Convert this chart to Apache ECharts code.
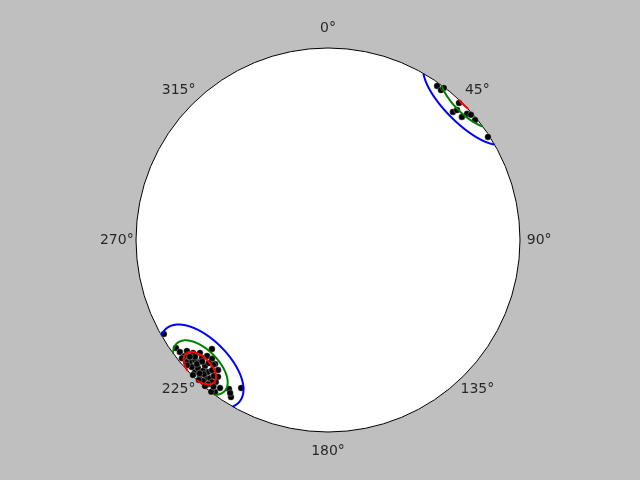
<!DOCTYPE html>
<html>
<head>
<meta charset="utf-8">
<script src="https://cdn.jsdelivr.net/npm/echarts@6/dist/echarts.min.js"></script>
<style>
html, body { margin: 0; padding: 0; background: #bfbfbf; }
#chart { width: 640px; height: 480px; }
</style>
</head>
<body>
<div id="chart"></div>
<script>
// poles, lower hemisphere (deg)
var trends = [
  35.3, 37.0, 37.3, 43.7, 44.3, 44.8, 47.4, 47.8, 48.8, 50.8, 57.2,
  240.2, 213.6, 210.4, 211.7, 226.8, 234.6, 232.9, 231.8, 230.1, 228.6,
  226.2, 224.3, 222.3, 220.2, 218.8, 218.3, 216.1, 216.6, 217.6, 222.6,
  212.6, 228.5, 227.9, 226.4, 224.3, 222.3, 221.5, 223.3, 225.2, 227.0,
  225.4, 223.7, 220.5, 219.2, 219.8, 221.6, 230.1, 231.1, 226.9, 224.1,
  221.7, 220.0, 226.6, 229.3, 225.0, 228.4, 220.1, 231.0, 222.7, 222.8,
  228.7, 229.8, 223.9, 218.0, 226.0
]
var plunges = [
  1.9, 2.5, 0.5, 1.4, 7.6, 5.2, 5.9, 2.5, 1.2, 1.3, 1.0,
  1.7, 7.6, 11.6, 4.3, 18.2, 3.2, 3.7, 7.2, 9.2, 12.1,
  13.8, 14.6, 13.7, 12.3, 9.4, 6.4, 5.1, 1.5, 0.3, 12.7,
  6.0, 4.5, 7.4, 8.7, 9.1, 7.8, 4.5, 3.0, 2.6, 3.4,
  5.5, 6.3, 6.0, 5.0, 2.6, 2.1, 5.5, 4.1, 11.0, 11.8,
  10.1, 8.3, 6.7, 2.8, 0.6, 2.0, 0.6, 2.4, 0.9, 5.4,
  8.6, 6.5, 4.0, 3.5, 9.8
]
var meanTrend = 225
var meanPlunge = 6
var coneAngles = [16.3, 10.6, 6.3]
var coneColors = ['#0000ff', '#008000', '#ff0000']
var tickAngles = [0, 45, 90, 135, 180, 225, 270, 315]

var d2r = Math.PI / 180

// equal-area projection, unit primitive
function project (trend, plunge) {
  var t = trend * d2r
  var p = plunge * d2r
  var r = Math.SQRT2 * Math.sin((Math.PI / 2 - p) / 2)
  return [r * Math.sin(t), r * Math.cos(t)]
}

// small circle around (trend, plunge), split where it leaves the lower hemisphere
function coneSegments (trend, plunge, angle) {
  var t = trend * d2r
  var p = plunge * d2r
  var a = angle * d2r
  var m = [Math.cos(p) * Math.cos(t), Math.cos(p) * Math.sin(t), Math.sin(p)]
  var h = [-Math.sin(t), Math.cos(t), 0]
  var v = [m[1] * h[2] - m[2] * h[1], m[2] * h[0] - m[0] * h[2], m[0] * h[1] - m[1] * h[0]]
  var segs = []
  var cur = null
  var prevFlip = null
  for (var i = 0; i <= 1440; i++) {
    var th = i / 1440 * 2 * Math.PI
    var c = [0, 1, 2].map(function (k) {
      return Math.cos(a) * m[k] + Math.sin(a) * (Math.cos(th) * h[k] + Math.sin(th) * v[k])
    })
    var flip = c[2] < 0
    if (flip) c = c.map(function (x) { return -x })
    var tr = Math.atan2(c[1], c[0]) / d2r
    var pl = Math.asin(Math.min(1, c[2])) / d2r
    if (flip !== prevFlip) {
      cur = []
      segs.push({ flip: flip, pts: cur })
      prevFlip = flip
    }
    cur.push(project(tr, pl))
  }
  if (segs.length > 1 && segs[0].flip === segs[segs.length - 1].flip) {
    var last = segs.pop()
    segs[0].pts = last.pts.concat(segs[0].pts)
  }
  return segs.map(function (s) { return s.pts })
}

var chart = echarts.init(document.getElementById('chart'))

var series = [
  {
    type: 'custom',
    silent: true,
    z: 1,
    data: [[0, 0]],
    renderItem: function (params, api) {
      var c = api.coord([0, 0])
      var r = api.size([1, 0])[0]
      return {
        type: 'circle',
        shape: { cx: c[0], cy: c[1], r: r },
        style: { fill: '#ffffff', stroke: '#000000', lineWidth: 1 }
      }
    }
  },
  {
    type: 'scatter',
    z: 2,
    silent: true,
    symbolSize: 6.5,
    itemStyle: { color: '#000000', borderColor: '#ffffff', borderWidth: 0.3, opacity: 1 },
    data: trends.map(function (t, i) { return project(t, plunges[i]) })
  }
]

coneAngles.forEach(function (ang, k) {
  var segs = coneSegments(meanTrend, meanPlunge, ang)
  series.push({
    type: 'custom',
    silent: true,
    z: 3,
    data: [[0, 0]],
    renderItem: function (params, api) {
      return {
        type: 'group',
        children: segs.map(function (s) {
          return {
            type: 'polyline',
            shape: { points: s.map(function (q) { return api.coord(q) }) },
            style: { stroke: coneColors[k], lineWidth: 2, fill: null }
          }
        })
      }
    }
  })
})

series.push({
  type: 'scatter',
  silent: true,
  clip: false,
  z: 4,
  symbolSize: 0,
  data: tickAngles.map(function (a) {
    return { name: a + '°', value: [1.1 * Math.sin(a * d2r), 1.1 * Math.cos(a * d2r)] }
  }),
  label: {
    show: true,
    position: 'inside',
    formatter: '{b}',
    color: '#000000',
    fontSize: 14,
    fontFamily: 'DejaVu Sans'
  }
})

var option = {
  backgroundColor: '#bfbfbf',
  animation: false,
  grid: { left: 136, top: 48, width: 384, height: 384 },
  xAxis: { type: 'value', min: -1, max: 1, show: false },
  yAxis: { type: 'value', min: -1, max: 1, show: false },
  series: series
}
chart.setOption(option)
</script>
</body>
</html>
